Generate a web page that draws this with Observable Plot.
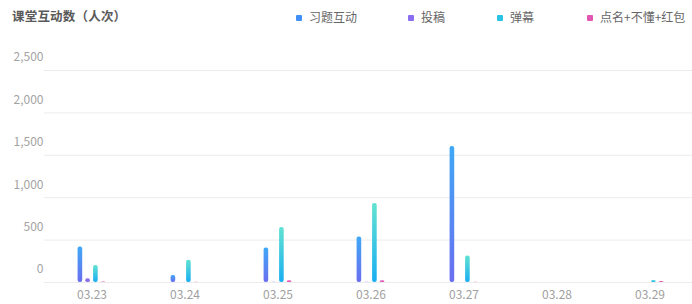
<!DOCTYPE html>
<html>
<head>
<meta charset="utf-8">
<script src="https://cdn.jsdelivr.net/npm/d3@7"></script>
<script src="https://cdn.jsdelivr.net/npm/@observablehq/plot@0.6"></script>
<style>
  html, body { margin: 0; padding: 0; background: #fff; overflow: hidden; }
  #wrap { position: relative; width: 692px; height: 304px; font-family: "Noto Sans CJK SC", "Noto Sans", sans-serif; }
  #title { position: absolute; left: 12px; top: 6px; font-size: 12.5px; font-weight: bold; color: #595959; letter-spacing: 0.2px; }
  #legend { position: absolute; left: 0; top: 8px; width: 692px; height: 20px; font-size: 12px; color: #666; }
  .item { position: absolute; top: 0; white-space: nowrap; line-height: 18px; }
  .sw { display: inline-block; width: 6px; height: 6px; border-radius: 1px; margin-right: 7px; vertical-align: 1px; }
  #chart { position: absolute; left: 0; top: 0; }
</style>
</head>
<body>
<div id="wrap">
  <div id="chart"></div>
  <div id="title">课堂互动数（人次）</div>
  <div id="legend"></div>
</div>
<script>
const dates = ["03.23", "03.24", "03.25", "03.26", "03.27", "03.28", "03.29"];
const seriesNames = ["习题互动", "投稿", "弹幕", "点名+不懂+红包"];
const exercise = [420, 84, 406, 537, 1605, 0, 0];
const posts = [44, 0, 3, 3, 0, 0, 0];
const danmaku = [201, 261, 648, 932, 312, 0, 25];
const rollcall = [5, 3, 20, 20, 3, 0, 12];
const yTicks = [0, 500, 1000, 1500, 2000, 2500];

const legendColors = ["#3f8ff6", "#8b6ef0", "#2ac3e6", "#e256b6"];
const legendX = [296, 408, 497, 587];
const fills = ["url(#g0)", "#8b6fe8", "url(#g2)", "#e25cb6"];
const offsets = [-11.6, -3.9, 3.9, 11.6];
const seriesValues = [exercise, posts, danmaku, rollcall];

const rows = seriesValues.map(vals => dates.map((d, i) => ({date: d, value: vals[i]})));

const bandWidth = (697 - 43.3) / dates.length;
const barW = 5;
const inset = (bandWidth - barW) / 2;

const marks = [
  Plot.ruleY(yTicks, {stroke: "#ececec", strokeWidth: 1}),
  ...rows.map((data, k) => Plot.barY(data.filter(r => r.value > 0), {
    x: "date", y: "value", fill: fills[k], dx: offsets[k],
    insetLeft: inset, insetRight: inset, rx: 2
  })),
  Plot.axisY(yTicks, {tickSize: 0, tickPadding: 1, dy: -13, tickFormat: d3.format(","), fill: "#a3a3a3", fontSize: 12}),
  Plot.axisX({tickSize: 0, tickPadding: 8, fill: "#a0a0a0", fontSize: 12})
];

const chart = Plot.plot({
  width: 692,
  height: 304,
  marginTop: 70,
  marginBottom: 22,
  marginLeft: 44,
  marginRight: 0,
  style: {fontFamily: "'Noto Sans CJK SC', 'Noto Sans', sans-serif", fontSize: "12px", background: "transparent", overflow: "hidden"},
  x: {type: "band", domain: dates, range: [43.3, 697], padding: 0, label: null},
  y: {domain: [0, 2500], label: null},
  marks
});

const svg = d3.select(chart);
const defs = svg.insert("defs", ":first-child");
const g0 = defs.append("linearGradient").attr("id", "g0").attr("x1", 0).attr("y1", 0).attr("x2", 0).attr("y2", 1);
g0.append("stop").attr("offset", "0%").attr("stop-color", "#3fa8f6");
g0.append("stop").attr("offset", "100%").attr("stop-color", "#6a6ef0");
const g2 = defs.append("linearGradient").attr("id", "g2").attr("x1", 0).attr("y1", 0).attr("x2", 0).attr("y2", 1);
g2.append("stop").attr("offset", "0%").attr("stop-color", "#62e2d2");
g2.append("stop").attr("offset", "100%").attr("stop-color", "#1aaef2");

document.getElementById("chart").appendChild(chart);

const legend = document.getElementById("legend");
seriesNames.forEach((name, i) => {
  const item = document.createElement("div");
  item.className = "item";
  item.style.left = legendX[i] + "px";
  const sw = document.createElement("span");
  sw.className = "sw";
  sw.style.background = legendColors[i];
  item.appendChild(sw);
  item.appendChild(document.createTextNode(name));
  legend.appendChild(item);
});
</script>
</body>
</html>
